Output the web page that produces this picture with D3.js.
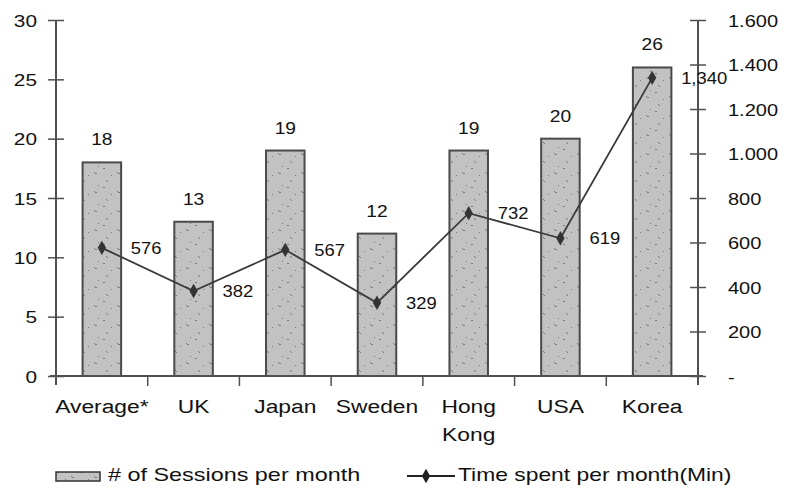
<!DOCTYPE html>
<html>
<head>
<meta charset="utf-8">
<script src="https://cdn.jsdelivr.net/npm/d3@7"></script>
<style>
  body { margin: 0; background: #fff; }
  svg { display: block; font-family: "Liberation Sans", Arial, sans-serif; }
  text { fill: #111; }
</style>
</head>
<body>
<svg id="chart"></svg>
<script>
// chart data
var categories = ['Average*', 'UK', 'Japan', 'Sweden', 'Hong Kong', 'USA', 'Korea'];
var sessions = [18, 13, 19, 12, 19, 20, 26];
var minutes = [576, 382, 567, 329, 732, 619, 1340];
var leftTicks = [0, 5, 10, 15, 20, 25, 30];
var rightTicks = [0, 200, 400, 600, 800, 1000, 1200, 1400, 1600];
var legendLabels = ['# of Sessions per month', 'Time spent per month(Min)'];

var canvasWidth = 787;
var canvasHeight = 491;
var plot = { left: 56, right: 698, top: 20, bottom: 376 };

var svg = d3.select('#chart')
  .attr('width', canvasWidth)
  .attr('height', canvasHeight);

// speckled grey fill like the scanned bars
var defs = svg.append('defs');
var pat = defs.append('pattern')
  .attr('id', 'speckle')
  .attr('patternUnits', 'userSpaceOnUse')
  .attr('width', 23).attr('height', 19);
pat.append('rect').attr('width', 23).attr('height', 19).attr('fill', '#c2c2c2');
var specks = [[2,1],[3,2],[4,2],[14,9],[15,10],[6,14],[19,4],[11,16],[12,16]];
pat.selectAll('rect.s').data(specks).enter().append('rect')
  .attr('class', 's')
  .attr('x', function(d) { return d[0]; })
  .attr('y', function(d) { return d[1]; })
  .attr('width', 1).attr('height', 1)
  .attr('fill', '#7a7a7a');

var xScale = d3.scaleBand().domain(categories)
  .range([plot.left, plot.right])
  .paddingInner(0.58).paddingOuter(0.29);
var yLeft = d3.scaleLinear().domain([0, 30]).range([plot.bottom, plot.top]);
var yRight = d3.scaleLinear().domain([0, 1600]).range([plot.bottom, plot.top]);

var dotFmt = d3.formatLocale({ decimal: ',', thousands: '.', grouping: [3], currency: ['', ''] }).format(',');
var axisColor = '#505050';

// text is drawn a bit wider than normal to match the stretched scan
function stretch(sel, dx, dy, sx) {
  sel.attr('x', 0).attr('y', 0).attr('dy', null)
    .attr('transform', 'translate(' + dx + ',' + dy + ') scale(' + sx + ',1)');
}

// bars
var bw = xScale.bandwidth();
svg.selectAll('.bar')
  .data(categories)
  .enter().append('rect')
  .attr('class', 'bar')
  .attr('x', function(d) { return xScale(d); })
  .attr('y', function(d, i) { return yLeft(sessions[i]); })
  .attr('width', bw)
  .attr('height', function(d, i) { return yLeft(0) - yLeft(sessions[i]); })
  .attr('fill', 'url(#speckle)')
  .attr('stroke', '#4a4a4a')
  .attr('stroke-width', 2);

svg.selectAll('.barlabel')
  .data(categories)
  .enter().append('text')
  .attr('class', 'barlabel')
  .attr('text-anchor', 'middle')
  .style('font-size', '16px')
  .text(function(d, i) { return sessions[i]; })
  .each(function(d, i) {
    stretch(d3.select(this), xScale(d) + bw / 2, yLeft(sessions[i]) - 17, 1.2);
  });

// left axis
var leftAxis = svg.append('g')
  .attr('transform', 'translate(' + plot.left + ',0)')
  .call(d3.axisLeft(yLeft).tickValues(leftTicks).tickSizeOuter(0));
leftAxis.select('.domain').remove();
leftAxis.selectAll('.tick line').attr('x1', 8).attr('x2', -8)
  .attr('stroke', axisColor).attr('stroke-width', 1.5);
leftAxis.selectAll('.tick text')
  .style('font-size', '16px').attr('fill', '#111')
  .each(function() { stretch(d3.select(this), -19, 6, 1.3); });

// right axis
var rightAxis = svg.append('g')
  .attr('transform', 'translate(' + plot.right + ',0)')
  .call(d3.axisRight(yRight).tickValues(rightTicks).tickSizeOuter(0)
    .tickFormat(function(d) { return d === 0 ? '-' : dotFmt(d); }));
rightAxis.select('.domain').remove();
rightAxis.selectAll('.tick line').attr('x1', -8).attr('x2', 8)
  .attr('stroke', axisColor).attr('stroke-width', 1.5);
rightAxis.selectAll('.tick text')
  .attr('text-anchor', 'start')
  .style('font-size', '16px').attr('fill', '#111')
  .each(function() { stretch(d3.select(this), 30, 6, 1.25); });

// axis lines
svg.append('line')
  .attr('x1', plot.left).attr('x2', plot.left)
  .attr('y1', yLeft(30)).attr('y2', plot.bottom + 9)
  .attr('stroke', axisColor).attr('stroke-width', 2);
svg.append('line')
  .attr('x1', plot.right).attr('x2', plot.right)
  .attr('y1', yRight(1600)).attr('y2', plot.bottom + 9)
  .attr('stroke', axisColor).attr('stroke-width', 2);
svg.append('line')
  .attr('x1', plot.left - 6).attr('x2', plot.right + 5)
  .attr('y1', plot.bottom).attr('y2', plot.bottom)
  .attr('stroke', axisColor).attr('stroke-width', 2);

// category boundary ticks
var gap = (xScale.step() - bw) / 2;
svg.selectAll('.xtick')
  .data(categories.slice(1))
  .enter().append('line')
  .attr('class', 'xtick')
  .attr('x1', function(d) { return xScale(d) - gap; })
  .attr('x2', function(d) { return xScale(d) - gap; })
  .attr('y1', plot.bottom).attr('y2', plot.bottom + 10)
  .attr('stroke', axisColor).attr('stroke-width', 1.5);

// category labels
svg.selectAll('.xlabel')
  .data(categories)
  .enter().append('text')
  .attr('class', 'xlabel')
  .attr('text-anchor', 'middle')
  .style('font-size', '19px')
  .each(function(d) {
    var t = d3.select(this);
    stretch(t, xScale(d) + bw / 2, 413, 1.2);
    d.split(' ').forEach(function(w, k) {
      t.append('tspan').attr('x', 0).attr('dy', k === 0 ? 0 : 28).text(w);
    });
  });

// time line
var line = d3.line()
  .x(function(d) { return xScale(d) + bw / 2; })
  .y(function(d, i) { return yRight(minutes[i]); });
svg.append('path')
  .datum(categories)
  .attr('d', line)
  .attr('fill', 'none')
  .attr('stroke', '#3a3a3a')
  .attr('stroke-width', 1.8);

var diamond = d3.symbol().type(d3.symbolDiamond).size(60);
svg.selectAll('.marker')
  .data(categories)
  .enter().append('path')
  .attr('class', 'marker')
  .attr('d', diamond)
  .attr('transform', function(d, i) {
    return 'translate(' + (xScale(d) + bw / 2) + ',' + yRight(minutes[i]) + ')';
  })
  .attr('fill', '#333');

svg.selectAll('.linelabel')
  .data(categories)
  .enter().append('text')
  .attr('class', 'linelabel')
  .style('font-size', '16px')
  .text(function(d, i) { return minutes[i] >= 1000 ? d3.format(',')(minutes[i]) : minutes[i]; })
  .each(function(d, i) {
    stretch(d3.select(this), xScale(d) + bw / 2 + 29, yRight(minutes[i]) + 6, 1.15);
  });

// legend
var legend = svg.append('g').attr('class', 'legend');
legend.append('rect')
  .attr('x', 56).attr('y', 472)
  .attr('width', 44).attr('height', 9)
  .attr('fill', 'url(#speckle)')
  .attr('stroke', '#333').attr('stroke-width', 1.5);
legend.append('text')
  .style('font-size', '18px')
  .text(legendLabels[0])
  .call(stretch, 108, 481, 1.3);

legend.append('line')
  .attr('x1', 407).attr('x2', 455)
  .attr('y1', 476).attr('y2', 476)
  .attr('stroke', '#222').attr('stroke-width', 2);
legend.append('path')
  .attr('d', diamond)
  .attr('transform', 'translate(426,476)')
  .attr('fill', '#222');
legend.append('text')
  .style('font-size', '18px')
  .text(legendLabels[1])
  .call(stretch, 458, 481, 1.27);
</script>
</body>
</html>
